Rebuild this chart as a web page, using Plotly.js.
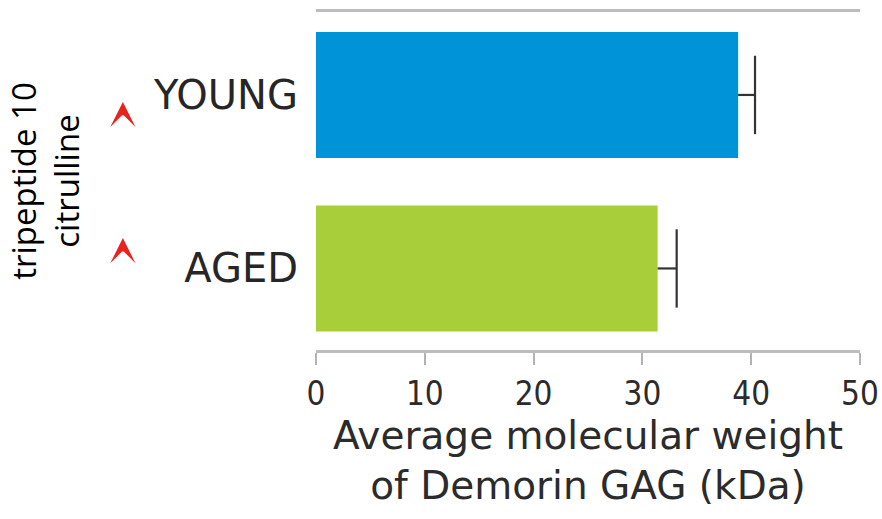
<!DOCTYPE html>
<html>
<head>
<meta charset="utf-8">
<script src="https://cdn.plot.ly/plotly-3.0.1.min.js"></script>
<style>html,body{margin:0;padding:0;background:#fff;}#chart{width:882px;height:519px;}</style>
</head>
<body>
<div id="chart"></div>
<script>
// Data
const categories = ['YOUNG', 'AGED'];
const avgWeight = [38.8, 31.4];      // kDa
const errorPlus = [1.55, 1.75];      // kDa (upper error only)
const barColors = ['#0093d7', '#a8cf39'];
const xTickVals = [0, 10, 20, 30, 40, 50];
const xTitle = 'Average molecular weight<br>of Demorin GAG (kDa)';
const yTitle = 'tripeptide 10<br>citrulline';

const yRange = [1.47, -0.478];
// significance arrow tips, as offsets from each category centre
const arrowTipOffset = [0.04, -0.175];

// error bar stems (from bar end to bar end + error) and caps
const stemX = [], stemY = [];
categories.forEach((c, i) => {
  stemX.push(avgWeight[i], avgWeight[i] + errorPlus[i], null);
  stemY.push(c, c, null);
});
const capX = categories.map((c, i) => avgWeight[i] + errorPlus[i]);

const traces = [
  {
    type: 'bar', orientation: 'h',
    x: avgWeight, y: categories,
    width: 0.726,
    marker: {color: barColors},
    hoverinfo: 'x+y', showlegend: false
  },
  {
    type: 'scatter', mode: 'lines',
    x: stemX, y: stemY,
    line: {color: '#333333', width: 2.2},
    connectgaps: false, cliponaxis: false,
    hoverinfo: 'skip', showlegend: false
  },
  {
    type: 'scatter', mode: 'markers',
    x: capX, y: categories,
    marker: {symbol: 'line-ns-open', size: 56, color: '#333333', line: {color: '#333333', width: 2.2}},
    cliponaxis: false,
    hoverinfo: 'skip', showlegend: false
  }
];

const arrowAnnotations = categories.map((c, i) => ({
  xref: 'paper', yref: 'y',
  x: -0.355, y: i + arrowTipOffset[i],
  text: '', showarrow: true,
  arrowhead: 3, arrowsize: 3, arrowwidth: 1.4, arrowcolor: '#e8221c',
  ax: 0, ay: 12, standoff: 0
}));

const layout = {
  width: 882, height: 519,
  margin: {l: 316, r: 22, t: 12, b: 169},
  paper_bgcolor: '#ffffff', plot_bgcolor: '#ffffff',
  showlegend: false,
  xaxis: {
    range: [0, 50],
    tickvals: xTickVals,
    ticks: 'outside', ticklen: 12, tickwidth: 2, tickcolor: '#b3b3b3',
    showline: true, linecolor: '#bdbdbd', linewidth: 3, mirror: true,
    showgrid: false, zeroline: false,
    tickfont: {family: '"Liberation Sans Narrow", "DejaVu Sans Condensed", sans-serif', size: 33, color: '#2b2b2b'},
    title: {text: xTitle, font: {family: '"DejaVu Sans", sans-serif', size: 39, color: '#2b2b2b'}, standoff: 2},
    fixedrange: true
  },
  yaxis: {
    type: 'category',
    categoryorder: 'array', categoryarray: categories,
    range: yRange,
    ticks: '', showline: false, showgrid: false, zeroline: false,
    ticklabelstandoff: 17,
    tickfont: {family: '"DejaVu Sans", sans-serif', size: 40, color: '#262626'},
    title: {text: yTitle, font: {family: '"Open Sans", sans-serif', size: 33, color: '#000000'}, standoff: 63},
    fixedrange: true
  },
  annotations: arrowAnnotations
};

Plotly.newPlot('chart', traces, layout, {staticPlot: true, displayModeBar: false});
</script>
</body>
</html>
